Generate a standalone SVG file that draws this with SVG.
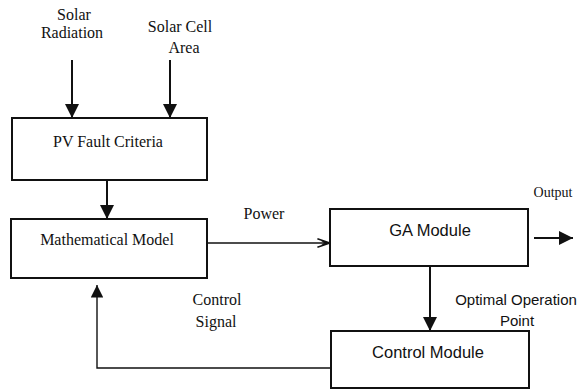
<svg xmlns="http://www.w3.org/2000/svg" width="581" height="390" viewBox="0 0 581 390">
<style>
.box{fill:#fff;stroke:#111;stroke-width:2}
.serif{font-family:"Liberation Serif","Times New Roman",serif;font-size:16px;fill:#111;text-anchor:middle}
.sans{font-family:"Liberation Sans",Arial,sans-serif;font-size:16px;fill:#111;text-anchor:middle}
.ln{fill:none;stroke:#111;stroke-width:2}
.thin{fill:none;stroke:#111;stroke-width:1.4}
</style>
<defs>
<marker id="ah" viewBox="0 0 10 10" refX="10" refY="5" markerWidth="7" markerHeight="7" markerUnits="strokeWidth" orient="auto">
<path d="M0,0 L10,5 L0,10 Z" fill="#111"/>
</marker>
<marker id="ahs" viewBox="0 0 10 10" refX="10" refY="5" markerWidth="9" markerHeight="9" markerUnits="strokeWidth" orient="auto">
<path d="M0,0 L10,5 L0,10 Z" fill="#111"/>
</marker>
<marker id="ahopen" viewBox="0 0 12 10" refX="12" refY="5" markerWidth="9" markerHeight="8" markerUnits="strokeWidth" orient="auto">
<path d="M0,1 L12,5 L0,9 M4,2.5 L8,5 L4,7.5" fill="none" stroke="#111" stroke-width="1.5"/>
</marker>
</defs>

<g id="connectors">
<line class="ln" x1="72" y1="60" x2="72" y2="118" marker-end="url(#ah)"/>
<line class="ln" x1="170" y1="60" x2="170" y2="118" marker-end="url(#ah)"/>
<line class="ln" x1="107" y1="180" x2="107" y2="219" marker-end="url(#ah)"/>
<line class="thin" x1="207" y1="243" x2="330" y2="243" marker-end="url(#ahopen)"/>
<line class="ln" x1="534" y1="238" x2="573" y2="238" marker-end="url(#ah)"/>
<line class="ln" x1="430" y1="266" x2="430" y2="331" marker-end="url(#ah)"/>
<polyline class="thin" points="331,368 97,368 97,285" marker-end="url(#ahs)"/>
</g>

<g id="label-solar-radiation">
<text class="serif" x="74" y="20">Solar</text>
<text class="serif" x="72" y="38">Radiation</text>
</g>
<g id="label-solar-cell-area">
<text class="serif" x="180" y="32">Solar Cell</text>
<text class="serif" x="184" y="53">Area</text>
</g>

<g id="pv-fault-criteria">
<rect class="box" x="12" y="118" width="195" height="62"/>
<text class="serif" x="108" y="147">PV Fault Criteria</text>
</g>

<g id="mathematical-model">
<rect class="box" x="11" y="219" width="196" height="59"/>
<text class="serif" x="107" y="245">Mathematical Model</text>
</g>

<g id="label-power">
<text class="serif" x="264" y="219">Power</text>
</g>

<g id="ga-module">
<rect class="box" x="330" y="209" width="198" height="57"/>
<text class="sans" x="430" y="236" style="font-size:16.5px">GA Module</text>
</g>

<g id="label-output">
<text class="serif" x="553" y="197" style="font-size:14px">Output</text>
</g>

<g id="label-optimal">
<text class="sans" x="516" y="305" style="font-size:15px">Optimal Operation</text>
<text class="sans" x="517" y="326" style="font-size:15px">Point</text>
</g>

<g id="label-control-signal">
<text class="serif" x="217" y="305">Control</text>
<text class="serif" x="216" y="327">Signal</text>
</g>

<g id="control-module">
<rect class="box" x="331" y="331" width="198" height="57"/>
<text class="sans" x="428" y="358" style="font-size:16.5px">Control Module</text>
</g>
</svg>
